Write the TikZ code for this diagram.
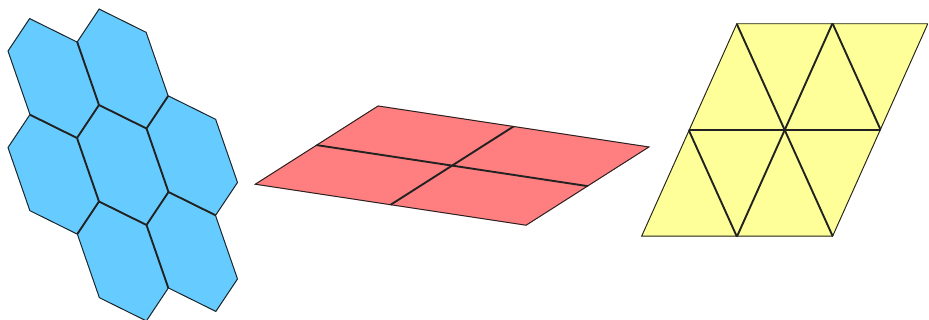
\documentclass[tikz,border=0pt]{standalone}
\usetikzlibrary{calc}
\definecolor{hexblue}{HTML}{66CCFF}
\definecolor{tilered}{HTML}{FF7F80}
\definecolor{tileyel}{HTML}{FFFF99}
\definecolor{edgecol}{HTML}{222222}
\tikzset{
  tileline/.style={draw=edgecol, line width=1.9pt, line join=round, line cap=round},
}
\begin{document}
\begin{tikzpicture}[x=1pt,y=-1pt]
\useasboundingbox (0,0) rectangle (929,320);
% ---------- hexagons ----------
\def\hexoffsets{0/0, -69.5/-87, 0/-96.5, -69.5/9.5, 69.5/-9.5, 0/96.5, 69.5/87}
\fill[hexblue] \foreach \dx/\dy in \hexoffsets {(99+\dx,105+\dy) -- ++(47.5,23.5) -- ++(22,63.5) -- ++(-22,33) -- ++(-47.5,-23.5) -- ++(-22,-63.5) -- cycle};
\begin{scope}
  \clip \foreach \dx/\dy in \hexoffsets {(99+\dx,105+\dy) -- ++(47.5,23.5) -- ++(22,63.5) -- ++(-22,33) -- ++(-47.5,-23.5) -- ++(-22,-63.5) -- cycle};
  \path[tileline] \foreach \dx/\dy in \hexoffsets {(99+\dx,105+\dy) -- ++(47.5,23.5) -- ++(22,63.5) -- ++(-22,33) -- ++(-47.5,-23.5) -- ++(-22,-63.5) -- cycle};
\end{scope}
% ---------- red parallelogram ----------
\coordinate (pL) at (254,184.5);
\coordinate (pT) at (378,105.5);
\coordinate (pR) at (650.2,146.7);
\coordinate (pB) at (526.2,225.7);
\coordinate (mLT) at ($(pL)!0.5!(pT)$);
\coordinate (mBR) at ($(pB)!0.5!(pR)$);
\coordinate (mTR) at ($(pT)!0.5!(pR)$);
\coordinate (mLB) at ($(pL)!0.5!(pB)$);
\fill[tilered] (pL) -- (pT) -- (pR) -- (pB) -- cycle;
\begin{scope}
  \clip (pL) -- (pT) -- (pR) -- (pB) -- cycle;
  \path[tileline] (pL) -- (pT) -- (pR) -- (pB) -- cycle;
  \path[tileline] (mLT) -- (mBR);
  \path[tileline] (mTR) -- (mLB);
\end{scope}
% ---------- yellow triangles ----------
\coordinate (t1) at (736.5,23.3);
\coordinate (t2) at (832.5,23.3);
\coordinate (t3) at (928.5,23.3);
\coordinate (m1) at (688.7,130);
\coordinate (m2) at (784.7,130);
\coordinate (m3) at (880.7,130);
\coordinate (b1) at (640.9,236.7);
\coordinate (b2) at (736.9,236.7);
\coordinate (b3) at (832.9,236.7);
\fill[tileyel] (t1) -- (t3) -- (b3) -- (b1) -- cycle;
\begin{scope}
  \clip (t1) -- (t3) -- (b3) -- (b1) -- cycle;
  \path[tileline] (t1) -- (t3) -- (b3) -- (b1) -- cycle;
  \path[tileline] (m1) -- (m3);
  \path[tileline] (t1) -- (b3);
  \path[tileline] (t2) -- (b2);
  \path[tileline] (t2) -- (m3);
  \path[tileline] (m1) -- (b2);
\end{scope}
\end{tikzpicture}
\end{document}
